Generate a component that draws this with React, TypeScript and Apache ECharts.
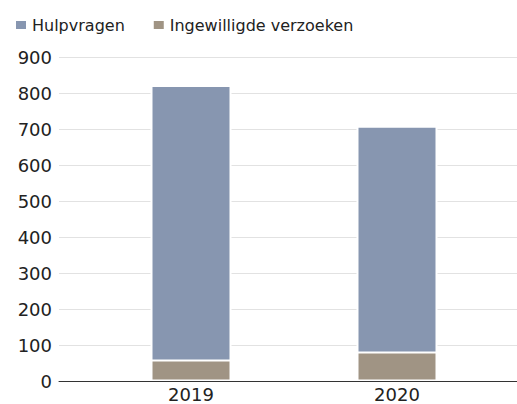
import React, { useEffect, useRef } from "react";
import * as echarts from "echarts";

const categories = ["2019", "2020"];
const hulpvragen = [822, 709];
const ingewilligd = [61, 83];
const yTicks = { min: 0, max: 900, interval: 100 };

export default function App() {
  const ref = useRef<HTMLDivElement>(null);
  useEffect(() => {
    if (!ref.current) return;
    const chart = echarts.init(ref.current, null, { renderer: "svg" });
    const font = "DejaVu Sans";
    chart.setOption({
      animation: false,
      textStyle: { fontFamily: font },
      legend: {
        left: 14,
        top: 17,
        padding: 0,
        itemWidth: 12,
        itemHeight: 10,
        itemGap: 27,
        icon: "rect",
        textStyle: { fontFamily: font, fontSize: 16, color: "#222" },
        data: ["Hulpvragen", "Ingewilligde verzoeken"],
      },
      grid: [
        { left: 59, right: 0, top: 57, bottom: 22.5, outerBoundsMode: "none", containLabel: false },
        { left: 88, right: 17, top: 57, bottom: 22.5, outerBoundsMode: "none", containLabel: false },
      ],
      xAxis: [
        {
          type: "value",
          gridIndex: 0,
          min: 0,
          max: 1,
          z: 5,
          axisLine: { show: true, lineStyle: { color: "#333", width: 1 } },
          axisTick: { show: false },
          axisLabel: { show: false },
          splitLine: { show: false },
        },
        {
          type: "category",
          gridIndex: 1,
          data: categories,
          axisLine: { show: false },
          axisTick: { show: false },
          axisLabel: { fontFamily: font, fontSize: 18, color: "#222", margin: 4 },
        },
      ],
      yAxis: [
        {
          type: "value",
          gridIndex: 0,
          min: yTicks.min,
          max: yTicks.max,
          interval: yTicks.interval,
          axisLine: { show: false },
          axisTick: { show: false },
          axisLabel: { fontFamily: font, fontSize: 18, color: "#222", margin: 7 },
          splitLine: { lineStyle: { color: "#e2e2e2", width: 1 } },
        },
        {
          type: "value",
          gridIndex: 1,
          min: yTicks.min,
          max: yTicks.max,
          interval: yTicks.interval,
          show: false,
          splitLine: { show: false },
        },
      ],
      series: [
        {
          name: "Hulpvragen",
          type: "bar",
          xAxisIndex: 1,
          yAxisIndex: 1,
          data: hulpvragen,
          barWidth: 81,
          barGap: "-100%",
          itemStyle: { color: "#8796b0", borderColor: "#fff", borderWidth: 2 },
        },
        {
          name: "Ingewilligde verzoeken",
          type: "bar",
          xAxisIndex: 1,
          yAxisIndex: 1,
          data: ingewilligd,
          barWidth: 81,
          barGap: "-100%",
          itemStyle: { color: "#a09484", borderColor: "#fff", borderWidth: 2 },
        },
      ],
    });
    return () => chart.dispose();
  }, []);
  return <div ref={ref} style={{ width: 517, height: 404, position: "absolute", left: 0, top: 0 }} />;
}
